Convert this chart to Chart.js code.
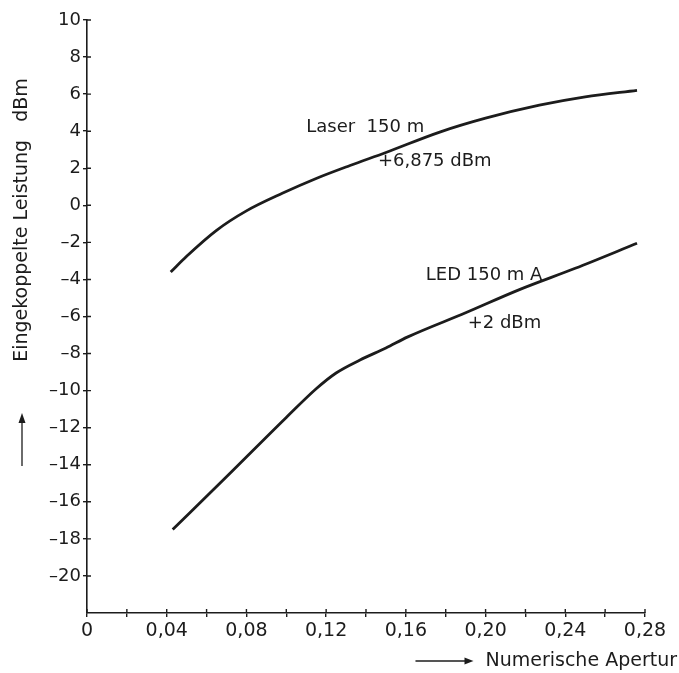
<!DOCTYPE html>
<html>
<head>
<meta charset="utf-8">
<script src="https://cdn.jsdelivr.net/npm/chart.js@4.4.1/dist/chart.umd.min.js"></script>
<style>
  html, body { margin: 0; padding: 0; background: #fff; }
  #wrap { width: 679px; height: 673px; }
</style>
</head>
<body>
<div id="wrap"><canvas id="chart"></canvas></div>
<script>
// Numerische Apertur (x) vs. eingekoppelte Leistung in dBm (y)
const laserNA = [0.042, 0.05, 0.065, 0.08, 0.098, 0.115, 0.132, 0.15, 0.177, 0.20, 0.227, 0.25, 0.276];
const laserDbm = [-3.6, -2.75, -1.35, -0.3, 0.65, 1.45, 2.15, 2.85, 3.95, 4.7, 5.4, 5.85, 6.2];
const ledNA = [0.043, 0.07, 0.10, 0.115, 0.125, 0.137, 0.15, 0.161, 0.19, 0.217, 0.245, 0.276];
const ledDbm = [-17.5, -14.65, -11.45, -9.9, -9.05, -8.35, -7.7, -7.1, -5.8, -4.55, -3.4, -2.05];

const xMin = 0, xMax = 0.28, xStep = 0.02;
const yMin = -22, yMax = 10, yStep = 2;

const notes = [
  { text: "Laser  150 m", x: 0.110, y: 4.2 },
  { text: "+6,875 dBm", x: 0.146, y: 2.4 },
  { text: "LED 150 m A", x: 0.170, y: -3.8 },
  { text: "+2 dBm", x: 0.191, y: -6.35 }
];

const ink = "#1c1c1c";
const fontFam = "'DejaVu Sans', 'Noto Sans', sans-serif";

function pts(xs, ys) {
  return xs.map((x, i) => ({ x: x, y: ys[i] }));
}

// inner tick marks, axis titles with arrows, curve labels
const decorations = {
  id: "decorations",
  afterDraw(chart) {
    const ctx = chart.ctx;
    const xs = chart.scales.x, ys = chart.scales.y;
    const area = chart.chartArea;
    ctx.save();
    ctx.strokeStyle = ink;
    ctx.lineWidth = 1.4;
    ctx.beginPath();
    xs.ticks.forEach(t => {
      const px = xs.getPixelForValue(t.value);
      ctx.moveTo(px, area.bottom);
      ctx.lineTo(px, area.bottom - 4);
    });
    ys.ticks.forEach(t => {
      if (t.value <= yMin) return;
      const py = ys.getPixelForValue(t.value);
      ctx.moveTo(area.left, py);
      ctx.lineTo(area.left + 4, py);
    });
    ctx.stroke();

    // curve labels
    ctx.fillStyle = ink;
    ctx.font = "18px " + fontFam;
    ctx.textAlign = "left";
    ctx.textBaseline = "middle";
    notes.forEach(n => {
      ctx.fillText(n.text, xs.getPixelForValue(n.x), ys.getPixelForValue(n.y));
    });

    // x axis title with arrow
    ctx.font = "19px " + fontFam;
    ctx.textAlign = "right";
    const tx = 677, ty = 661;
    ctx.fillText("Numerische Apertur", tx, ty);
    const tw = ctx.measureText("Numerische Apertur").width;
    const ax1 = tx - tw - 12, ax0 = ax1 - 58;
    ctx.lineWidth = 1.3;
    ctx.beginPath();
    ctx.moveTo(ax0, ty);
    ctx.lineTo(ax1 - 6, ty);
    ctx.stroke();
    ctx.beginPath();
    ctx.moveTo(ax1, ty);
    ctx.lineTo(ax1 - 9, ty - 3.5);
    ctx.lineTo(ax1 - 9, ty + 3.5);
    ctx.closePath();
    ctx.fill();

    // y axis title with arrow
    ctx.save();
    ctx.translate(22, 220);
    ctx.rotate(-Math.PI / 2);
    ctx.textAlign = "center";
    ctx.font = "19px " + fontFam;
    ctx.fillText("Eingekoppelte Leistung   dBm", 0, 0);
    ctx.restore();
    const axx = 22;
    ctx.beginPath();
    ctx.moveTo(axx, 466);
    ctx.lineTo(axx, 422);
    ctx.stroke();
    ctx.beginPath();
    ctx.moveTo(axx, 413);
    ctx.lineTo(axx - 3.5, 423);
    ctx.lineTo(axx + 3.5, 423);
    ctx.closePath();
    ctx.fill();
    ctx.restore();
  }
};

const ctx = document.getElementById("chart").getContext("2d");
new Chart(ctx, {
  type: "line",
  data: {
    datasets: [
      {
        label: "Laser 150 m",
        data: pts(laserNA, laserDbm),
        borderColor: ink,
        borderWidth: 2.8,
        pointRadius: 0,
        cubicInterpolationMode: "monotone",
        fill: false
      },
      {
        label: "LED 150 mA",
        data: pts(ledNA, ledDbm),
        borderColor: ink,
        borderWidth: 2.8,
        pointRadius: 0,
        cubicInterpolationMode: "monotone",
        fill: false
      }
    ]
  },
  options: {
    responsive: true,
    maintainAspectRatio: false,
    animation: false,
    layout: { padding: { left: 0, right: 34, top: 20, bottom: 0 } },
    plugins: {
      legend: { display: false },
      tooltip: { enabled: false }
    },
    scales: {
      x: {
        type: "linear",
        min: xMin,
        max: xMax,
        afterBuildTicks(scale) {
          const t = [];
          for (let i = 0; i <= Math.round((xMax - xMin) / xStep); i++) {
            t.push({ value: +(xMin + i * xStep).toFixed(2) });
          }
          scale.ticks = t;
        },
        afterFit(scale) { scale.height = 60; },
        border: { display: true, color: ink, width: 1.6 },
        grid: { drawOnChartArea: false, drawTicks: true, tickLength: 4, color: ink, lineWidth: 1.4 },
        ticks: {
          color: ink,
          font: { family: fontFam, size: 19 },
          padding: 3,
          maxRotation: 0,
          autoSkip: false,
          callback(v) {
            const i = Math.round(v / xStep);
            if (i % 2 !== 0) return "";
            if (v === 0) return "0";
            return v.toFixed(2).replace(".", ",");
          }
        }
      },
      y: {
        type: "linear",
        min: yMin,
        max: yMax,
        afterFit(scale) { scale.width = 87; },
        border: { display: true, color: ink, width: 1.6 },
        grid: {
          drawOnChartArea: false,
          drawTicks: true,
          tickLength: 4,
          lineWidth: 1.4,
          color: c => (c.tick && c.tick.value <= yMin ? "rgba(0,0,0,0)" : ink)
        },
        ticks: {
          stepSize: yStep,
          color: ink,
          font: { family: fontFam, size: 18 },
          padding: 2,
          callback(v) {
            if (v <= yMin) return "";
            return v < 0 ? "\u2013" + Math.abs(v) : String(v);
          }
        }
      }
    }
  },
  plugins: [decorations]
});
</script>
</body>
</html>
